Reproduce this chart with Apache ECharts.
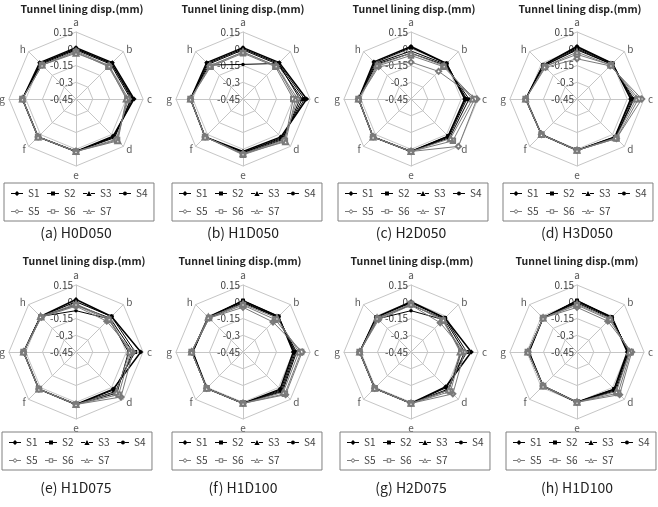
<!DOCTYPE html>
<html>
<head>
<meta charset="utf-8">
<script src="https://cdn.jsdelivr.net/npm/echarts@6/dist/echarts.min.js"></script>
<style>
  html, body { margin: 0; padding: 0; background: #fff; }
  #main { width: 658px; height: 507px; }
</style>
</head>
<body>
<div id="main"></div>
<script>
// axes of each radar (clockwise from top)
const axes = ['a', 'b', 'c', 'd', 'e', 'f', 'g', 'h'];
const seriesNames = ['S1', 'S2', 'S3', 'S4', 'S5', 'S6', 'S7'];
const caseNames = ['(a) H0D050', '(b) H1D050', '(c) H2D050', '(d) H3D050',
                   '(e) H1D075', '(f) H1D100', '(g) H2D075', '(h) H1D100'];
const tickMin = -0.45;
const tickMax = 0.15;

// displacement (mm) per series, values at a..h
const h0d050 = [
  [0.01, 0.01, 0.07, 0.02, 0.02, 0.03, 0.03, 0.01],
  [0.00, 0.00, 0.05, 0.03, 0.02, 0.03, 0.03, 0.00],
  [-0.01, -0.01, 0.04, 0.04, 0.02, 0.03, 0.03, -0.01],
  [0.00, 0.00, 0.06, 0.03, 0.02, 0.03, 0.03, 0.00],
  [-0.02, -0.03, 0.02, 0.06, 0.02, 0.03, 0.03, -0.02],
  [-0.03, -0.04, 0.01, 0.07, 0.02, 0.03, 0.03, -0.02],
  [-0.04, -0.03, 0.00, 0.08, 0.02, 0.03, 0.03, -0.02]
];
const h1d050 = [
  [0.01, 0.01, 0.12, 0.03, 0.02, 0.03, 0.02, 0.01],
  [0.00, 0.00, 0.10, 0.04, 0.03, 0.03, 0.02, 0.00],
  [-0.01, -0.01, 0.08, 0.05, 0.03, 0.03, 0.02, -0.01],
  [-0.14, 0.00, 0.06, 0.06, 0.04, 0.03, 0.02, -0.02],
  [-0.03, -0.03, 0.04, 0.07, 0.04, 0.03, 0.02, -0.03],
  [-0.04, -0.04, 0.00, 0.08, 0.05, 0.03, 0.02, -0.04],
  [-0.03, -0.03, 0.02, 0.09, 0.04, 0.03, 0.02, -0.03]
];
const h2d050 = [
  [0.02, 0.00, 0.03, 0.02, 0.02, 0.03, 0.02, 0.02],
  [0.01, 0.00, 0.04, 0.02, 0.02, 0.03, 0.02, 0.01],
  [-0.02, -0.01, 0.05, 0.03, 0.02, 0.03, 0.02, 0.00],
  [-0.04, -0.02, 0.07, 0.04, 0.02, 0.03, 0.02, -0.01],
  [-0.12, -0.10, 0.14, 0.15, 0.02, 0.03, 0.02, -0.04],
  [-0.06, -0.04, 0.12, 0.08, 0.02, 0.03, 0.02, -0.03],
  [-0.04, -0.03, 0.10, 0.05, 0.02, 0.03, 0.02, -0.02]
];
const h3d050 = [
  [0.02, 0.00, 0.03, 0.03, 0.01, 0.00, 0.01, -0.02],
  [0.01, 0.00, 0.04, 0.03, 0.01, 0.00, 0.01, -0.02],
  [0.00, -0.01, 0.05, 0.04, 0.01, 0.00, 0.01, -0.03],
  [-0.01, -0.01, 0.06, 0.04, 0.01, 0.00, 0.01, -0.03],
  [-0.09, -0.03, 0.13, 0.05, 0.01, 0.00, 0.01, -0.05],
  [-0.05, -0.02, 0.10, 0.05, 0.01, 0.00, 0.01, -0.04],
  [-0.03, -0.02, 0.08, 0.04, 0.01, 0.00, 0.01, -0.04]
];
const h1d075 = [
  [0.02, 0.00, 0.13, 0.02, 0.02, 0.02, 0.02, 0.00],
  [0.00, 0.00, 0.08, 0.03, 0.02, 0.02, 0.02, 0.00],
  [-0.03, -0.02, 0.06, 0.05, 0.02, 0.02, 0.02, 0.00],
  [-0.08, -0.03, 0.02, 0.07, 0.02, 0.02, 0.02, 0.00],
  [-0.04, -0.06, 0.06, 0.12, 0.02, 0.02, 0.02, -0.01],
  [-0.03, -0.04, 0.04, 0.09, 0.02, 0.02, 0.02, -0.01],
  [-0.02, -0.03, 0.03, 0.06, 0.02, 0.02, 0.02, 0.00]
];
const h1d100 = [
  [0.01, 0.00, 0.00, 0.02, 0.01, 0.01, 0.00, -0.01],
  [0.01, 0.00, 0.01, 0.03, 0.01, 0.01, 0.00, -0.01],
  [0.00, -0.01, 0.02, 0.04, 0.01, 0.01, 0.01, -0.01],
  [-0.01, -0.01, 0.03, 0.05, 0.01, 0.01, 0.01, -0.02],
  [-0.05, -0.07, 0.08, 0.09, 0.01, 0.01, 0.01, -0.02],
  [-0.03, -0.04, 0.07, 0.08, 0.01, 0.01, 0.01, -0.02],
  [-0.02, -0.02, 0.05, 0.06, 0.01, 0.01, 0.01, -0.01]
];
const h2d075 = [
  [0.00, -0.02, 0.09, -0.01, 0.01, 0.01, 0.01, -0.01],
  [-0.01, -0.02, 0.05, 0.00, 0.01, 0.01, 0.01, -0.01],
  [-0.03, -0.03, 0.03, 0.02, 0.01, 0.01, 0.01, -0.02],
  [-0.08, -0.04, 0.00, 0.03, 0.01, 0.01, 0.01, -0.03],
  [-0.03, -0.08, 0.03, 0.08, 0.01, 0.01, 0.01, -0.04],
  [-0.02, -0.05, 0.00, 0.05, 0.01, 0.01, 0.01, -0.03],
  [-0.02, -0.04, -0.01, 0.03, 0.01, 0.01, 0.01, -0.02]
];
const h1d100b = [
  [0.01, -0.01, 0.00, 0.02, 0.00, -0.02, -0.02, -0.02],
  [0.01, -0.01, 0.01, 0.02, 0.00, -0.02, -0.02, -0.02],
  [0.00, -0.01, 0.01, 0.03, 0.00, -0.02, -0.01, -0.02],
  [-0.01, -0.02, 0.02, 0.04, 0.00, -0.02, -0.01, -0.02],
  [-0.05, -0.06, 0.04, 0.09, 0.00, -0.02, -0.01, -0.02],
  [-0.03, -0.04, 0.03, 0.07, 0.00, -0.02, -0.01, -0.02],
  [-0.02, -0.03, 0.02, 0.05, 0.00, -0.02, -0.01, -0.02]
];
const panels = [h0d050, h1d050, h2d050, h3d050, h1d075, h1d100, h2d075, h1d100b];

// layout
const font = '"Noto Sans CJK KR", "Noto Sans", sans-serif';
const colX = [76, 243, 411, 577];
const rowY = [99, 352];
const titleX = [82, 243, 414, 580, 84, 240, 412, 577];
const titleY = [9, 261];
const legendX = [4, 172, 338, 503, 2, 172, 340, 506];
const legendY = [183, 432];
const captionY = [233, 488];

// ECharts lays radar indicators counter-clockwise, so feed them reversed
const order = [0, 7, 6, 5, 4, 3, 2, 1];

const black = '#000000';
const grey = '#7a7a7a';
const styles = [
  { symbol: 'diamond', symbolSize: 5, color: black, width: 1.5 },
  { symbol: 'rect', symbolSize: 4, color: black, width: 1 },
  { symbol: 'triangle', symbolSize: 4.5, color: black, width: 1 },
  { symbol: 'circle', symbolSize: 3.5, color: black, width: 1 },
  { symbol: 'emptyDiamond', symbolSize: 5, color: grey, width: 1 },
  { symbol: 'emptyRect', symbolSize: 4.5, color: grey, width: 1 },
  { symbol: 'emptyTriangle', symbolSize: 5, color: grey, width: 1 }
];
const lineL = 'M0,2H4V3H0Z';
const lineR = 'M8,2H12V3H8Z';
const icons = [
  'path://' + lineL + lineR + 'M6,0L8.5,2.5L6,5L3.5,2.5Z',
  'path://' + lineL + lineR + 'M4,0.5H8V4.5H4Z M0,5H0.01V5.01H0Z M0,0H0.01V0.01H0Z',
  'path://' + lineL + lineR + 'M6,0L8.6,5H3.4Z',
  'path://' + lineL + lineR + 'M4,2.5A2,2 0 1 1 8,2.5A2,2 0 1 1 4,2.5Z M0,5H0.01V5.01H0Z M0,0H0.01V0.01H0Z',
  'path://' + lineL + lineR + 'M6,0L8.5,2.5L6,5L3.5,2.5Z M6,1.2L4.7,2.5L6,3.8L7.3,2.5Z',
  'path://' + lineL + lineR + 'M3.8,0.3H8.2V4.7H3.8Z M4.8,1.3V3.7H7.2V1.3Z M0,5H0.01V5.01H0Z M0,0H0.01V0.01H0Z',
  'path://' + lineL + lineR + 'M6,0L8.8,5H3.2Z M6,1.9L4.6,4.2H7.4Z'
];

const radars = [];
const series = [];
const legends = [];
const graphics = [];

panels.forEach((vals, i) => {
  const cx = colX[i % 4];
  const row = Math.floor(i / 4);
  radars.push({
    center: [cx, rowY[row]],
    radius: 67,
    startAngle: 90,
    splitNumber: 4,
    shape: 'polygon',
    nameGap: 4,
    axisName: { color: '#595959', fontSize: 10, fontFamily: font },
    splitLine: { lineStyle: { color: '#c6c6c6', width: 1 } },
    splitArea: { show: false },
    axisLine: { lineStyle: { color: '#c6c6c6', width: 1 } },
    axisTick: { show: false },
    axisLabel: { show: false },
    indicator: order.map(k => {
      const ind = { name: axes[k], min: tickMin, max: tickMax };
      if (k === 0) {
        ind.axisLabel = {
          show: true, color: '#404040', fontSize: 10, fontFamily: font,
          margin: 3
        };
      }
      return ind;
    })
  });
  series.push({
    type: 'radar',
    radarIndex: i,
    silent: true,
    data: vals.map((v, s) => ({
      name: seriesNames[s],
      value: order.map(k => v[k]),
      symbol: styles[s].symbol,
      symbolSize: styles[s].symbolSize,
      itemStyle: { color: styles[s].color },
      lineStyle: { color: styles[s].color, width: styles[s].width }
    }))
  });
  legends.push({
    left: legendX[i],
    top: legendY[row],
    width: 150,
    orient: 'horizontal',
    padding: [5, 6, 4, 7],
    itemGap: 7,
    itemWidth: 12,
    itemHeight: 5,
    borderColor: '#808080',
    borderWidth: 1,
    selectedMode: false,
    textStyle: { fontSize: 10, color: '#404040', fontFamily: font, width: 12, lineHeight: 11 },
    data: seriesNames.map((n, s) => ({
      name: n,
      icon: icons[s],
      itemStyle: { color: styles[s].color, borderWidth: 0 }
    }))
  });
  graphics.push({
    type: 'text',
    style: {
      x: titleX[i], y: titleY[row], text: 'Tunnel lining disp.(mm)',
      fill: '#222', font: 'bold 10.5px ' + font,
      textAlign: 'center', textVerticalAlign: 'middle'
    }
  });
  graphics.push({
    type: 'text',
    style: {
      x: cx, y: captionY[row], text: caseNames[i],
      fill: '#222', font: '14px ' + font,
      textAlign: 'center', textVerticalAlign: 'middle'
    }
  });
});

const chart = echarts.init(document.getElementById('main'), null, { renderer: 'canvas' });
chart.setOption({
  animation: false,
  backgroundColor: '#ffffff',
  radar: radars,
  legend: legends,
  series: series,
  graphic: graphics
});
</script>
</body>
</html>
